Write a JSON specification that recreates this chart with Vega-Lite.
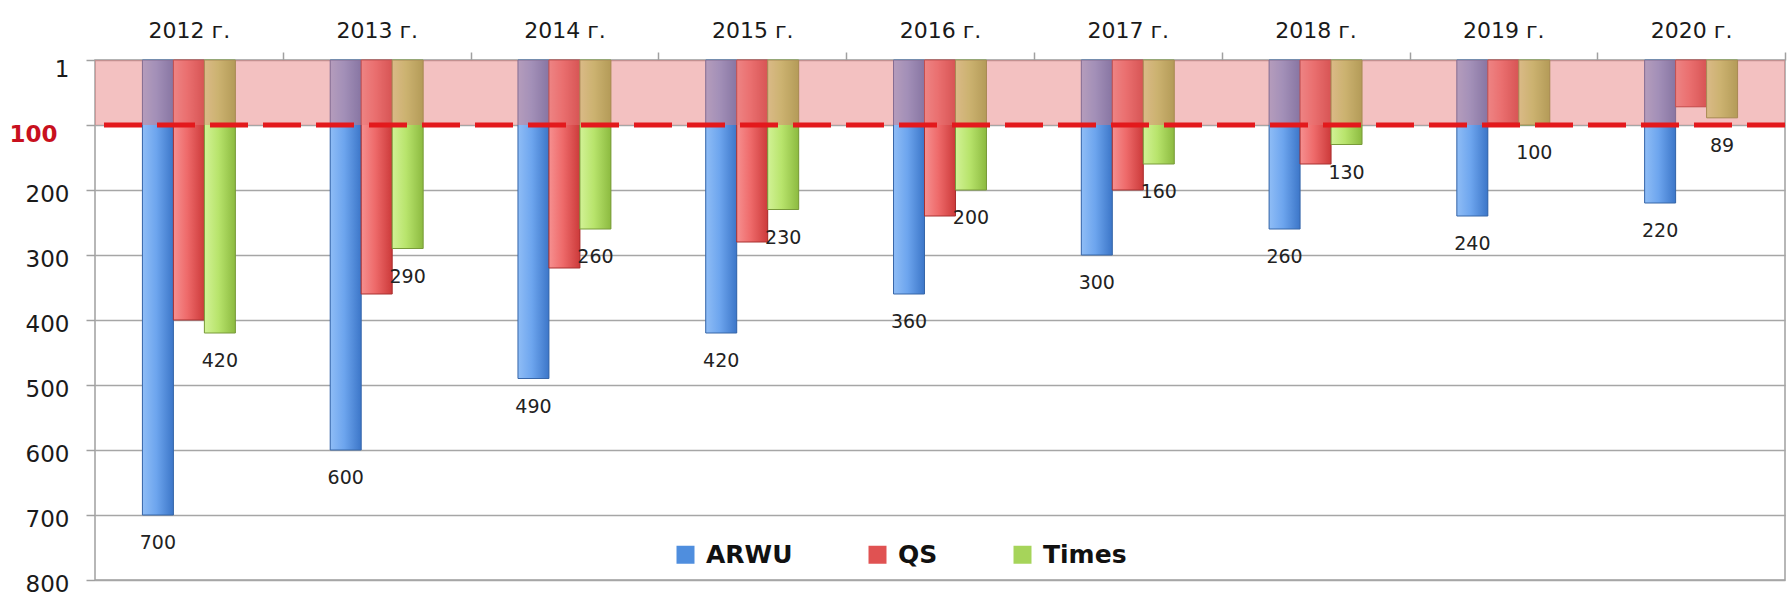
{
  "$schema": "https://vega.github.io/schema/vega-lite/v6.json",
  "width": 1690,
  "height": 520,
  "autosize": {"type": "none"},
  "padding": {"left": 95, "top": 60, "right": 2, "bottom": 18},
  "background": "white",
  "config": {
    "view": {"stroke": "#a0a0a0", "strokeWidth": 1.5},
    "font": "DejaVu Sans",
    "legend": {
      "orient": "none",
      "legendX": 578,
      "legendY": 482,
      "direction": "horizontal",
      "symbolSize": 324,
      "symbolStrokeWidth": 0,
      "labelFontSize": 25,
      "labelFontWeight": "bold",
      "labelFont": "DejaVu Sans",
      "labelColor": "#111111",
      "columnPadding": 72,
      "labelOffset": 8
    }
  },
  "datasets": {
    "ranks": [
      {"year": "2012 г.", "series": "ARWU", "value": 700},
      {"year": "2012 г.", "series": "QS", "value": 400},
      {"year": "2012 г.", "series": "Times", "value": 420},
      {"year": "2013 г.", "series": "ARWU", "value": 600},
      {"year": "2013 г.", "series": "QS", "value": 360},
      {"year": "2013 г.", "series": "Times", "value": 290},
      {"year": "2014 г.", "series": "ARWU", "value": 490},
      {"year": "2014 г.", "series": "QS", "value": 320},
      {"year": "2014 г.", "series": "Times", "value": 260},
      {"year": "2015 г.", "series": "ARWU", "value": 420},
      {"year": "2015 г.", "series": "QS", "value": 280},
      {"year": "2015 г.", "series": "Times", "value": 230},
      {"year": "2016 г.", "series": "ARWU", "value": 360},
      {"year": "2016 г.", "series": "QS", "value": 240},
      {"year": "2016 г.", "series": "Times", "value": 200},
      {"year": "2017 г.", "series": "ARWU", "value": 300},
      {"year": "2017 г.", "series": "QS", "value": 200},
      {"year": "2017 г.", "series": "Times", "value": 160},
      {"year": "2018 г.", "series": "ARWU", "value": 260},
      {"year": "2018 г.", "series": "QS", "value": 160},
      {"year": "2018 г.", "series": "Times", "value": 130},
      {"year": "2019 г.", "series": "ARWU", "value": 240},
      {"year": "2019 г.", "series": "QS", "value": 97},
      {"year": "2019 г.", "series": "Times", "value": 100},
      {"year": "2020 г.", "series": "ARWU", "value": 220},
      {"year": "2020 г.", "series": "QS", "value": 72},
      {"year": "2020 г.", "series": "Times", "value": 89}
    ],
    "zone": [{"top": 0, "bottom": 100}]
  },
  "layer": [
    {
      "data": {"name": "ranks"},
      "mark": {"type": "bar"},
      "encoding": {
        "x": {
          "field": "year", "type": "nominal", "sort": null, "title": null,
          "scale": {"paddingInner": 0.505, "paddingOuter": 0.2525},
          "axis": {
            "orient": "top", "labelAngle": 0, "bandPosition": 1, "tickOffset": 47.5, "labelOffset": -47.5,
            "labelFontSize": 22, "labelColor": "#1a1a1a", "domain": false,
            "tickColor": "#a0a0a0", "tickSize": 8, "tickWidth": 1.5,
            "labelPadding": 10, "grid": false
          }
        },
        "xOffset": {
          "field": "series", "type": "nominal",
          "scale": {"domain": ["ARWU", "QS", "Times"], "paddingInner": 0, "paddingOuter": 0}
        },
        "y": {
          "field": "value", "type": "quantitative", "title": null,
          "scale": {"domain": [0, 800], "reverse": true, "nice": false, "zero": true},
          "axis": {
            "values": [0, 100, 200, 300, 400, 500, 600, 700, 800],
            "labelExpr": "datum.value == 0 ? '1' : datum.label",
            "labelFontSize": 23,
            "labelColor": {"condition": {"test": "datum.value == 100", "value": "#c8101e"}, "value": "#1a1a1a"},
            "labelFontWeight": {"condition": {"test": "datum.value == 100", "value": "bold"}, "value": "normal"},
            "labelOffset": {"condition": {"test": "datum.value == 0 || datum.value == 100", "value": 9}, "value": 4},
            "labelPadding": {"condition": {"test": "datum.value == 100", "value": 29}, "value": 17},
            "tickSize": 9, "tickColor": "#a0a0a0", "tickWidth": 1.5,
            "domain": false, "grid": true, "gridColor": "#a6a6a6", "gridWidth": 1.5
          }
        },
        "color": {
          "field": "series", "type": "nominal", "title": null,
          "scale": {"domain": ["ARWU", "QS", "Times"], "range": ["#4f8ede", "#e05252", "#a6d45a"]}
        }
      }
    },
    {
      "data": {"name": "ranks"},
      "transform": [{"filter": "datum.series == 'ARWU'"}],
      "mark": {
        "type": "bar", "stroke": "#3766a8", "strokeWidth": 1,
        "fill": {"gradient": "linear", "x1": 0, "y1": 0, "x2": 1, "y2": 0,
          "stops": [{"offset": 0, "color": "#8fbdf6"}, {"offset": 0.45, "color": "#6da5ee"}, {"offset": 1, "color": "#3c76c8"}]}
      },
      "encoding": {
        "x": {"field": "year", "type": "nominal", "sort": null, "title": null},
        "xOffset": {"field": "series", "type": "nominal"},
        "y": {"field": "value", "type": "quantitative", "title": null}
      }
    },
    {
      "data": {"name": "ranks"},
      "transform": [{"filter": "datum.series == 'QS'"}],
      "mark": {
        "type": "bar", "stroke": "#a83030", "strokeWidth": 1,
        "fill": {"gradient": "linear", "x1": 0, "y1": 0, "x2": 1, "y2": 0,
          "stops": [{"offset": 0, "color": "#f69090"}, {"offset": 0.45, "color": "#ee6a6a"}, {"offset": 1, "color": "#cc3a3a"}]}
      },
      "encoding": {
        "x": {"field": "year", "type": "nominal", "sort": null, "title": null},
        "xOffset": {"field": "series", "type": "nominal"},
        "y": {"field": "value", "type": "quantitative", "title": null}
      }
    },
    {
      "data": {"name": "ranks"},
      "transform": [{"filter": "datum.series == 'Times'"}],
      "mark": {
        "type": "bar", "stroke": "#789a3a", "strokeWidth": 1,
        "fill": {"gradient": "linear", "x1": 0, "y1": 0, "x2": 1, "y2": 0,
          "stops": [{"offset": 0, "color": "#d2f296"}, {"offset": 0.45, "color": "#b8e46c"}, {"offset": 1, "color": "#8cba40"}]}
      },
      "encoding": {
        "x": {"field": "year", "type": "nominal", "sort": null, "title": null},
        "xOffset": {"field": "series", "type": "nominal"},
        "y": {"field": "value", "type": "quantitative", "title": null}
      }
    },
    {
      "data": {"name": "zone"},
      "mark": {"type": "rect", "color": "#e47575", "opacity": 0.45},
      "encoding": {
        "y": {"field": "top", "type": "quantitative", "title": null},
        "y2": {"field": "bottom"}
      }
    },
    {
      "data": {"name": "zone"},
      "mark": {"type": "rule", "color": "#e3191c", "strokeWidth": 5, "strokeDash": [38, 15]},
      "encoding": {
        "y": {"field": "bottom", "type": "quantitative", "title": null}
      }
    },
    {
      "data": {"name": "ranks"},
      "transform": [{"filter": "datum.series != 'QS'"}],
      "mark": {"type": "text", "fontSize": 19, "color": "#222222", "baseline": "middle", "align": "center", "dy": 28, "font": "DejaVu Sans"},
      "encoding": {
        "x": {"field": "year", "type": "nominal", "sort": null, "title": null},
        "xOffset": {"field": "series", "type": "nominal"},
        "y": {"field": "value", "type": "quantitative", "title": null},
        "text": {"field": "value", "type": "quantitative"}
      }
    }
  ]
}
